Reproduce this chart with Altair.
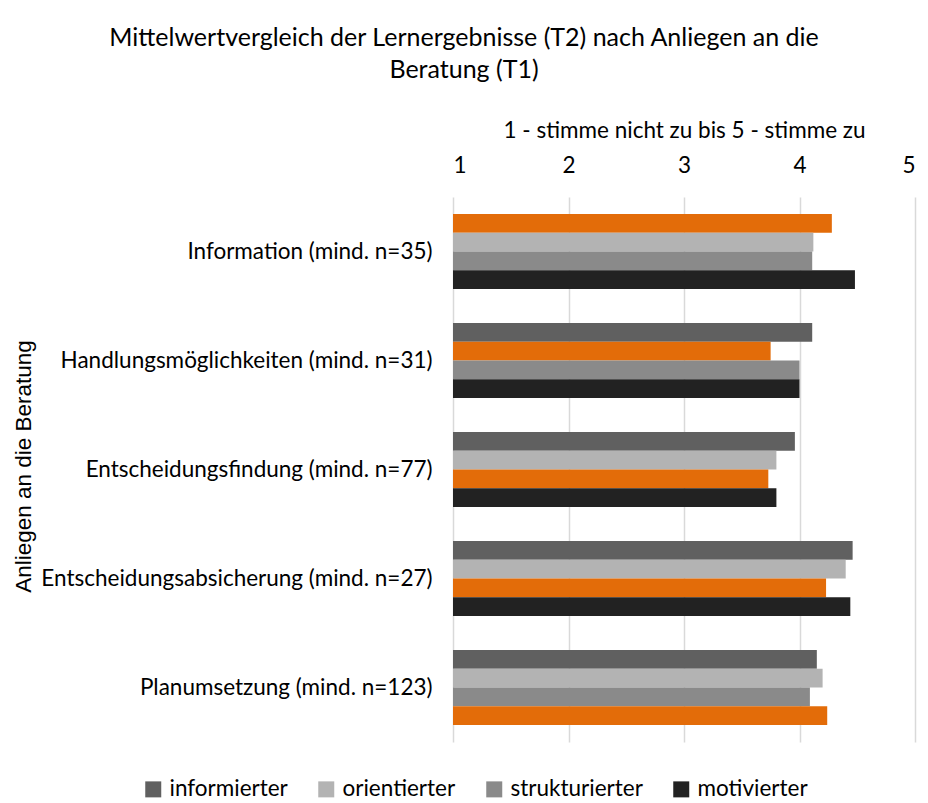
import altair as alt
import pandas as pd

categories = [
    "Information (mind. n=35)",
    "Handlungsmöglichkeiten (mind. n=31)",
    "Entscheidungsfindung (mind. n=77)",
    "Entscheidungsabsicherung (mind. n=27)",
    "Planumsetzung (mind. n=123)",
]
series = ["informierter", "orientierter", "strukturierter", "motivierter"]
informierter = [4.28, 4.11, 3.96, 4.46, 4.15]
orientierter = [4.12, 3.75, 3.80, 4.40, 4.20]
strukturierter = [4.11, 4.00, 3.73, 4.23, 4.09]
motivierter = [4.48, 4.00, 3.80, 4.44, 4.24]
highlighted = ["informierter", "orientierter", "strukturierter", "strukturierter", "motivierter"]

series_colors = ["#606060", "#b3b3b3", "#8a8a8a", "#222222"]
highlight_color = "#e36c09"
HL = "hervorgehoben"

values = {
    "informierter": informierter,
    "orientierter": orientierter,
    "strukturierter": strukturierter,
    "motivierter": motivierter,
}
rows = []
for i, cat in enumerate(categories):
    for s in series:
        rows.append({
            "Anliegen": cat,
            "Gruppe": s,
            "Wert": values[s][i],
            "Farbe": HL if highlighted[i] == s else s,
        })
df = pd.DataFrame(rows)

FONT = "Lato"
FS = 22.5

chart = alt.Chart(df).mark_bar().encode(
    y=alt.Y(
        "Anliegen:N",
        sort=categories,
        scale=alt.Scale(paddingInner=0.312, paddingOuter=0.156),
        axis=alt.Axis(
            title="Anliegen an die Beratung",
            titleFont="Liberation Sans",
            titleFontSize=22.5,
            titleFontWeight="normal",
            titleColor="#000000",
            titleX=-430,
            titleY=269,
            titleAngle=-90,
            titleAlign="center",
            titleBaseline="middle",
            labelFont=FONT,
            labelFontSize=FS,
            labelColor="#000000",
            labelPadding=21,
            ticks=False,
            domain=False,
            grid=False,
            labelLimit=600,
        ),
    ),
    yOffset=alt.YOffset("Gruppe:N", sort=series, scale=alt.Scale(paddingInner=0, paddingOuter=0)),
    x=alt.X(
        "Wert:Q",
        scale=alt.Scale(domain=[1, 5], zero=False, nice=False),
        axis=alt.Axis(
            orient="top",
            values=[1, 2, 3, 4, 5],
            format="d",
            title="1 - stimme nicht zu bis 5 - stimme zu",
            titleFont=FONT,
            titleFontSize=FS,
            titleFontWeight="normal",
            titleColor="#000000",
            titleY=-67,
            titleBaseline="middle",
            labelFont=FONT,
            labelFontSize=FS,
            labelColor="#000000",
            labelPadding=20,
            ticks=False,
            domain=False,
            grid=True,
            gridColor="#d9d9d9",
            gridWidth=1.5,
        ),
    ),
    x2=alt.datum(1),
    color=alt.Color(
        "Farbe:N",
        scale=alt.Scale(domain=series + [HL], range=series_colors + [highlight_color]),
        legend=alt.Legend(
            title=None,
            values=series,
            orient="none",
            direction="horizontal",
            legendX=-311,
            legendY=581,
            symbolType="square",
            symbolSize=256,
            symbolStrokeWidth=0,
            labelFont=FONT,
            labelFontSize=FS,
            labelColor="#000000",
            labelOffset=5,
            columnPadding=27,
        ),
    ),
).properties(
    width=462,
    height=545,
    title=alt.TitleParams(
        text=["Mittelwertvergleich der Lernergebnisse (T2) nach Anliegen an die", "Beratung (T1)"],
        font=FONT,
        fontSize=25,
        fontWeight="normal",
        color="#000000",
        lineHeight=32,
        anchor="middle",
        dx=-220,
        offset=36,
    ),
    autosize=alt.AutoSizeParams(type="none"),
    padding={"left": 445, "top": 189, "right": 5, "bottom": 61},
).configure_view(stroke=None)

chart.save("out.html", embed_options={"renderer": "svg", "actions": False})
